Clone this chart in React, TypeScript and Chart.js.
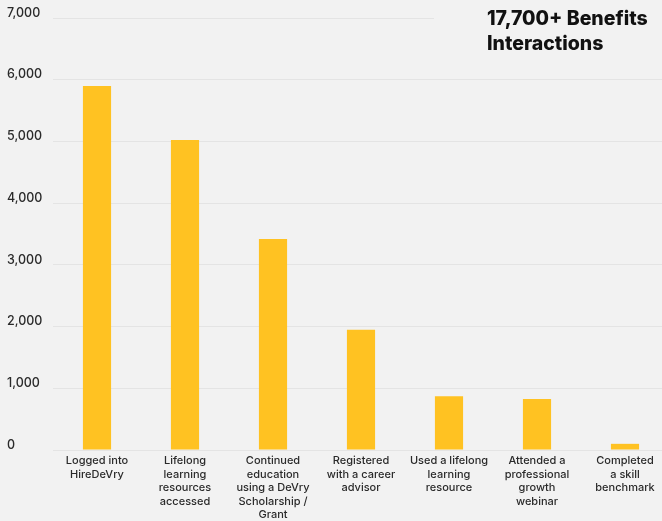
import React, { useEffect, useRef } from "react";
import { Chart, registerables } from "chart.js";

Chart.register(...registerables);

const categories: string[][] = [
  ["Logged into", "HireDeVry"],
  ["Lifelong", "learning", "resources", "accessed"],
  ["Continued", "education", "using a DeVry", "Scholarship /", "Grant"],
  ["Registered", "with a career", "advisor"],
  ["Used a lifelong", "learning", "resource"],
  ["Attended a", "professional", "growth", "webinar"],
  ["Completed", "a skill", "benchmark"],
];

const interactions: number[] = [5900, 5025, 3420, 1950, 870, 825, 100];

const yTicks: number[] = [0, 1000, 2000, 3000, 4000, 5000, 6000, 7000];

const titleLines: string[] = ["17,700+ Benefits", "Interactions"];

const BG = "#f2f2f2";

export default function App() {
  const ref = useRef<HTMLCanvasElement | null>(null);

  useEffect(() => {
    if (!ref.current) return;
    const titlePlugin = {
      id: "titleBox",
      afterDraw(chart: any) {
        const ctx = chart.ctx;
        ctx.save();
        ctx.fillStyle = BG;
        ctx.fillRect(434, 0, chart.width - 434, 62);
        ctx.fillStyle = "#111111";
        ctx.font = "800 19.5px Inter";
        ctx.textBaseline = "alphabetic";
        ctx.textAlign = "left";
        ctx.fillText(titleLines[0], 487, 25);
        ctx.fillText(titleLines[1], 487, 50);
        ctx.restore();
      },
    };
    const chart = new Chart(ref.current, {
      type: "bar",
      data: {
        labels: categories,
        datasets: [
          {
            label: "Interactions",
            data: interactions,
            backgroundColor: "#ffc222",
            borderWidth: 0,
            categoryPercentage: 0.8,
            barPercentage: 0.4,
          },
        ],
      },
      options: {
        responsive: false,
        animation: false,
        devicePixelRatio: 1,
        layout: { padding: { left: 7, top: 18, right: 0, bottom: 0 } },
        plugins: {
          legend: { display: false },
          tooltip: { enabled: false },
          title: { display: false },
        },
        scales: {
          x: {
            grid: { display: false },
            border: { display: false },
            ticks: {
              color: "#2a2a2a",
              font: { family: "Inter", size: 11, weight: 500, lineHeight: 1.23 },
              padding: -4,
              maxRotation: 0,
              autoSkip: false,
            },
            afterFit(scale: any) {
              scale.height = 71;
            },
          },
          y: {
            min: 0,
            max: 7000,
            afterBuildTicks(scale: any) {
              scale.ticks = yTicks.map((v) => ({ value: v }));
            },
            grid: { color: "#e4e4e4", drawTicks: false, lineWidth: 1 },
            border: { display: false },
            ticks: {
              color: "#2a2a2a",
              font: { family: "Inter", size: 12.5, weight: 500 },
              crossAlign: "far",
              labelOffset: -5,
              padding: 0,
              callback: (v: any) => Number(v).toLocaleString("en-US"),
            },
            afterFit(scale: any) {
              scale.width = 46;
            },
          },
        },
      },
      plugins: [titlePlugin],
    });
    return () => chart.destroy();
  }, []);

  return (
    <div
      style={{
        position: "fixed",
        left: 0,
        top: 0,
        width: 662,
        height: 521,
        overflow: "hidden",
        background: BG,
      }}
    >
      <canvas ref={ref} width={669} height={521} style={{ display: "block" }} />
    </div>
  );
}
